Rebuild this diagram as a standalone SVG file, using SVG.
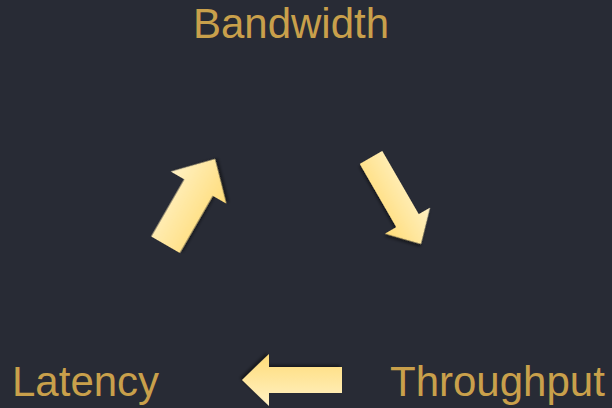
<svg xmlns="http://www.w3.org/2000/svg" width="612" height="408" viewBox="0 0 612 408">
  <style>
    .label { font-family: "Liberation Sans", Arial, sans-serif; font-size: 42px; fill: #c9a04b; }
    .arrow { fill: url(#arrowGrad); filter: url(#shadow); }
  </style>
  <defs>
    <linearGradient id="arrowGrad" x1="0" y1="0" x2="0" y2="1">
      <stop offset="0" stop-color="#fff1c4"/>
      <stop offset="1" stop-color="#ffdc78"/>
    </linearGradient>
    <filter id="shadow" x="-20%" y="-20%" width="140%" height="140%">
      <feDropShadow dx="2" dy="2" stdDeviation="1.5" flood-color="#000000" flood-opacity="0.45"/>
    </filter>
    <polygon id="arr" points="0,0 -27,-26 -27,-13 -100,-13 -100,13 -27,13 -27,26"/>
    <polygon id="arrBig" points="0,0 -33,-32 -33,-16.5 -99,-16.5 -99,16.5 -33,16.5 -33,32"/>
  </defs>
  <rect width="612" height="408" fill="#282b35"/>
  <g id="connectors">
    <use href="#arrBig" class="arrow" transform="translate(215,159) rotate(-60)"/>
    <use href="#arr" class="arrow" transform="translate(421,244) rotate(60)"/>
    <use href="#arr" class="arrow" transform="translate(242,380) rotate(180)"/>
  </g>
  <g id="bandwidth"><text class="label" x="291" y="38" text-anchor="middle">Bandwidth</text></g>
  <g id="latency"><text class="label" x="12" y="396">Latency</text></g>
  <g id="throughput"><text class="label" x="390" y="396">Throughput</text></g>
</svg>
